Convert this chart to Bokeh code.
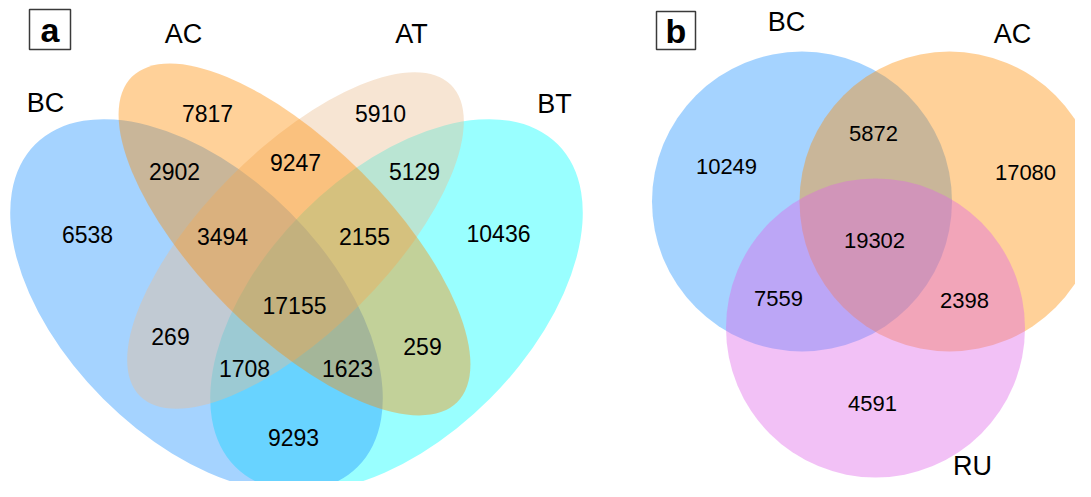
import math
from bokeh.plotting import figure
from bokeh.models import Range1d, ColumnDataSource
from bokeh.core.properties import value
from bokeh.embed import file_html
from bokeh.resources import INLINE

# ---------------- data ----------------
# Panel a: four-set Venn
a_sets = ["BC", "AC", "AT", "BT"]
a_regions = ["BC", "AC", "AT", "BT",
             "BC&AC", "AC&AT", "AT&BT",
             "BC&AC&AT", "AC&AT&BT", "BC&AC&AT&BT",
             "BC&AT", "AC&BT", "BC&AT&BT", "BC&AC&BT", "BC&BT"]
a_counts = [6538, 7817, 5910, 10436,
            2902, 9247, 5129,
            3494, 2155, 17155,
            269, 259, 1708, 1623, 9293]

# Panel b: three-set Venn
b_sets = ["BC", "AC", "RU"]
b_regions = ["BC", "BC&AC", "AC", "BC&AC&RU", "BC&RU", "AC&RU", "RU"]
b_counts = [10249, 5872, 17080, 19302, 7559, 2398, 4591]

# ---------------- styles ----------------
set_colors = {"BC": "#1E90FF", "AC": "#FF8C00", "AT": "#EBBE91",
              "BT": "#00FFFF", "RU": "#DE64E8"}
FILL_ALPHA = 0.4
FONT = "Liberation Sans"

# ---------------- layout (picture pixel coordinates, y downward) ----------------
W, H = 1075, 481


def fy(img_y):
    return H - img_y


# ellipse shapes: center x, center y, semi-major, semi-minor, tilt (deg, +: rises to right)
a_shapes = {
    "BC": (196, 305, 228, 132, -45),
    "BT": (396, 305, 228, 132, 45),
    "AC": (294, 239, 230, 95, -45),
    "AT": (295, 240, 220, 91, 45),
}
a_draw_order = ["BT", "BC", "AT", "AC"]

b_shapes = {
    "BC": (801.5, 201, 150),
    "AC": (949, 201, 150),
    "RU": (875, 327.5, 149.5),
}
b_draw_order = ["BC", "AC", "RU"]

a_set_label_pos = {"BC": (45, 102), "AC": (183, 33), "AT": (411, 33), "BT": (554, 103)}
a_region_pos = {
    "BC": (87, 234), "AC": (207, 113), "AT": (380, 113), "BT": (498, 233),
    "BC&AC": (174, 171), "AC&AT": (295, 162), "AT&BT": (414, 171),
    "BC&AC&AT": (222, 236), "AC&AT&BT": (364, 236), "BC&AC&AT&BT": (294, 305),
    "BC&AT": (170, 336), "AC&BT": (422, 346), "BC&AT&BT": (244, 368),
    "BC&AC&BT": (347, 368), "BC&BT": (293, 437),
}
b_set_label_pos = {"BC": (786, 21), "AC": (1012, 33), "RU": (972, 465)}
b_region_pos = {
    "BC": (726, 166), "BC&AC": (873, 133), "AC": (1025, 172),
    "BC&AC&RU": (874, 240), "BC&RU": (778, 298), "AC&RU": (964, 300),
    "RU": (872, 403),
}
panel_tags = [("a", 49.5, 29, 41, 40), ("b", 675.5, 30, 39, 38)]

# ---------------- figure ----------------
p = figure(width=W, height=H, output_backend="svg", toolbar_location=None,
           x_range=Range1d(0, W), y_range=Range1d(0, H),
           x_axis_type=None, y_axis_type=None, min_border=0)
p.grid.visible = False
p.outline_line_color = None
p.background_fill_color = "white"

# panel a ellipses
for s in a_draw_order:
    cx, cy, ra, rb, ang = a_shapes[s]
    p.ellipse(x=[cx], y=[fy(cy)], width=[2 * ra], height=[2 * rb],
              angle=[math.radians(ang)], fill_color=set_colors[s],
              fill_alpha=FILL_ALPHA, line_color=None)

# panel b circles
for s in b_draw_order:
    cx, cy, r = b_shapes[s]
    p.ellipse(x=[cx], y=[fy(cy)], width=[2 * r], height=[2 * r],
              fill_color=set_colors[s], fill_alpha=FILL_ALPHA, line_color=None)

# region counts
a_src = ColumnDataSource(dict(
    x=[a_region_pos[r][0] for r in a_regions],
    y=[fy(a_region_pos[r][1]) for r in a_regions],
    t=[str(v) for v in a_counts]))
p.text(x="x", y="y", text="t", source=a_src, text_font=value(FONT),
       text_font_size="23px", text_align="center", text_baseline="middle",
       text_color="black")

b_src = ColumnDataSource(dict(
    x=[b_region_pos[r][0] for r in b_regions],
    y=[fy(b_region_pos[r][1]) for r in b_regions],
    t=[str(v) for v in b_counts]))
p.text(x="x", y="y", text="t", source=b_src, text_font=value(FONT),
       text_font_size="22px", text_align="center", text_baseline="middle",
       text_color="black")

# set labels
for sets, pos in ((a_sets, a_set_label_pos), (b_sets, b_set_label_pos)):
    p.text(x=[pos[s][0] for s in sets], y=[fy(pos[s][1]) for s in sets],
           text=sets, text_font=value(FONT), text_font_size="27px",
           text_align="center", text_baseline="middle", text_color="black")

# panel tags
for tag, tx, ty, bw, bh in panel_tags:
    p.rect(x=[tx], y=[fy(ty)], width=[bw], height=[bh], fill_color=None,
           line_color="#3a3a3a", line_width=1.5)
    p.text(x=[tx], y=[fy(ty)], text=[tag], text_font=value(FONT),
           text_font_size="34px", text_font_style="bold", text_align="center",
           text_baseline="middle", text_color="black")

open("out.html", "w").write(file_html(p, INLINE))
